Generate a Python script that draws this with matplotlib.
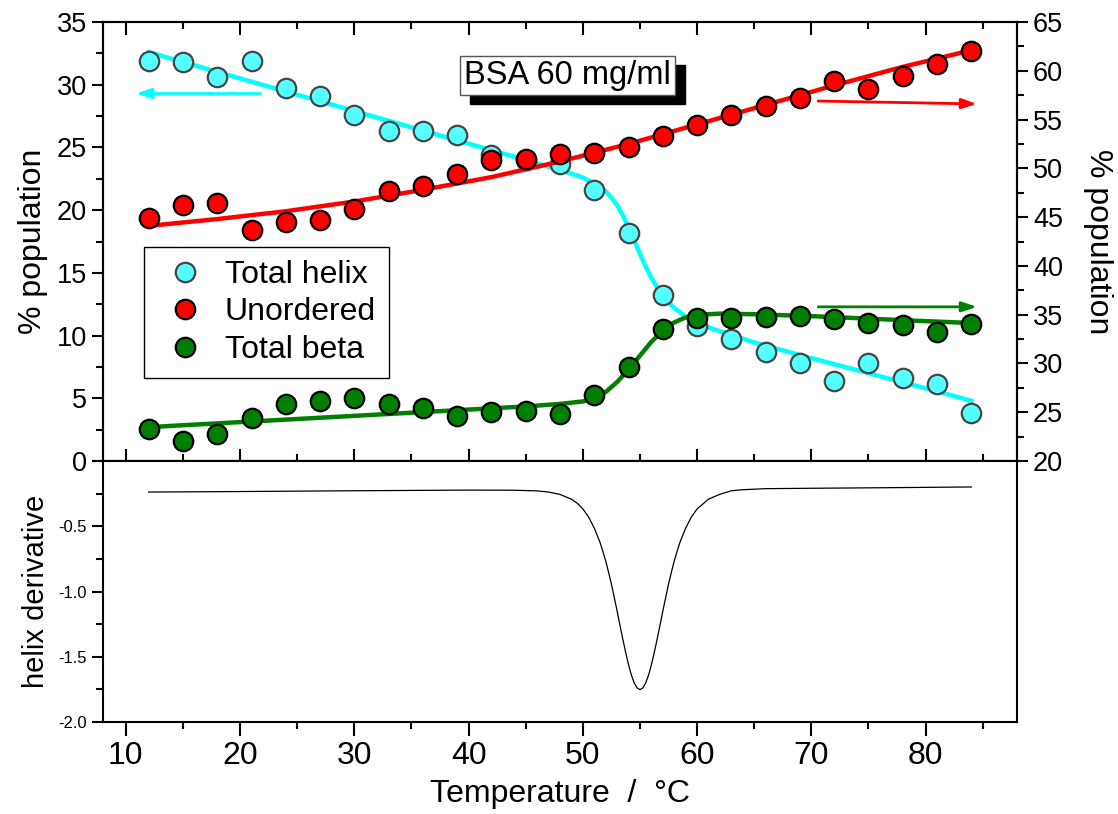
import numpy as np
import matplotlib
matplotlib.use('Agg')
import matplotlib.pyplot as plt
from matplotlib.ticker import MultipleLocator, FixedLocator, FixedFormatter
from matplotlib.patches import Rectangle

plt.rcParams['font.family'] = ['Liberation Sans', 'DejaVu Sans']

# measured points (temperature in C)
temp = [12, 15, 18, 21, 24, 27, 30, 33, 36, 39, 42, 45, 48,
        51, 54, 57, 60, 63, 66, 69, 72, 75, 78, 81, 84]
helix = [31.9, 31.8, 30.6, 31.9, 29.7, 29.1, 27.6, 26.3, 26.3, 26.0, 24.4, 24.0, 23.7,
         21.6, 18.2, 13.2, 10.8, 9.75, 8.7, 7.8, 6.4, 7.8, 6.6, 6.15, 3.8]
unordered = [44.9, 46.2, 46.4, 43.7, 44.5, 44.7, 45.8, 47.7, 48.2, 49.4, 50.9, 51.0, 51.5,
             51.6, 52.2, 53.3, 54.4, 55.5, 56.4, 57.2, 59.0, 58.1, 59.5, 60.7, 62.0]
beta = [2.56, 1.6, 2.16, 3.44, 4.56, 4.8, 5.04, 4.56, 4.24, 3.6, 3.9, 4.0, 3.76,
        5.28, 7.5, 10.55, 11.43, 11.43, 11.5, 11.6, 11.35, 11.0, 10.87, 10.3, 10.95]

# fitted curves
helix_fit_t = [12, 20, 30, 40, 45, 48, 50, 51, 52, 52.5, 53, 53.5, 54, 54.5, 55, 55.5, 56,
               56.5, 57, 57.5, 58, 59, 60, 61, 62, 63, 65, 70, 75, 80, 84]
helix_fit = [32.6, 30.5, 27.9, 25.3, 24.0, 23.2, 22.6, 22.1, 21.5, 21.0, 20.4, 19.6, 18.6,
             17.6, 16.5, 15.5, 14.6, 13.85, 13.2, 12.65, 12.2, 11.5, 11.0, 10.65, 10.35,
             10.05, 9.45, 8.2, 7.0, 5.8, 4.8]
unord_fit_t = [12, 18, 24, 30, 36, 42, 48, 54, 60, 66, 72, 78, 84]
unord_fit = [44.1, 44.8, 45.6, 46.6, 47.8, 49.1, 50.7, 52.5, 54.5, 56.5, 58.5, 60.4, 62.1]
beta_fit_t = [12, 20, 30, 40, 45, 48, 50, 51, 52, 53, 54, 55, 56, 57, 58, 59, 60, 62, 65,
              70, 75, 80, 84]
beta_fit = [2.7, 3.1, 3.6, 4.1, 4.35, 4.55, 4.75, 5.0, 5.5, 6.3, 7.3, 8.4, 9.5, 10.4, 11.05,
            11.45, 11.65, 11.75, 11.7, 11.55, 11.35, 11.15, 11.0]

deriv_t = [12, 20, 30, 40, 44, 46, 47, 48, 49, 49.5, 50, 50.5, 51, 51.5, 51.75, 52, 52.25,
           52.5, 52.75, 53, 53.25, 53.5, 53.75, 54, 54.25, 54.5, 54.75, 55, 55.25, 55.5,
           55.75, 56, 56.25, 56.5, 56.75, 57, 57.25, 57.5, 57.75, 58, 58.25, 58.5, 59,
           59.5, 60, 60.5, 61, 62, 63, 64, 66, 70, 76, 84]
deriv = [-0.238, -0.234, -0.228, -0.223, -0.224, -0.229, -0.238, -0.256, -0.293, -0.323,
         -0.367, -0.429, -0.514, -0.623, -0.692, -0.766, -0.852, -0.943, -1.046, -1.150,
         -1.260, -1.366, -1.468, -1.562, -1.641, -1.701, -1.739, -1.752, -1.739, -1.700,
         -1.641, -1.562, -1.468, -1.366, -1.260, -1.150, -1.046, -0.943, -0.852, -0.766,
         -0.692, -0.623, -0.514, -0.429, -0.367, -0.330, -0.292, -0.255, -0.228, -0.220,
         -0.212, -0.209, -0.205, -0.199]

CYAN_FILL = '#55ffff'
CYAN_LINE = '#00ffff'
RED = '#ff0000'
GREEN = '#007f00'

W, H = 1118, 814
fig = plt.figure(figsize=(W / 100, H / 100), dpi=100)
x0, x1 = 103, 1017
ytop, ymid, ybot = 22, 461, 722
ax = fig.add_axes([x0 / W, 1 - ymid / H, (x1 - x0) / W, (ymid - ytop) / H])
ax2 = ax.twinx()
axd = fig.add_axes([x0 / W, 1 - ybot / H, (x1 - x0) / W, (ybot - ymid) / H])

ms = 14
mew = 1.6
ax.plot(helix_fit_t, helix_fit, color=CYAN_LINE, lw=3.2, zorder=2)
ax.plot(temp, helix, 'o', ms=ms, mfc=CYAN_FILL, mec='#454545', mew=mew, zorder=3)
ax.plot(beta_fit_t, beta_fit, color=GREEN, lw=3.2, zorder=2)
ax.plot(temp, beta, 'o', ms=ms, mfc=GREEN, mec='black', mew=mew, zorder=3)
ax2.plot(unord_fit_t, unord_fit, color=RED, lw=3.2, zorder=2)
ax2.plot(temp, unordered, 'o', ms=ms, mfc=RED, mec='black', mew=mew, zorder=3)

# direction arrows pointing to the axis each series belongs to
arrow = dict(arrowstyle='-|>,head_length=0.9,head_width=0.3', lw=2, shrinkA=0, shrinkB=0)
ax.annotate('', xy=(10.9, 29.3), xytext=(21.8, 29.3),
            arrowprops=dict(arrow, color=CYAN_LINE))
ax2.annotate('', xy=(84.5, 56.6), xytext=(70.6, 56.9),
             arrowprops=dict(arrow, color=RED))
ax2.annotate('', xy=(84.5, 35.8), xytext=(70.6, 35.8),
             arrowprops=dict(arrow, color=GREEN))

ax.set_xlim(8, 88)
ax.set_ylim(0, 35)
ax2.set_ylim(20, 65)
ax.xaxis.set_major_locator(MultipleLocator(10))
ax.xaxis.set_minor_locator(MultipleLocator(5))
ax.yaxis.set_major_locator(MultipleLocator(5))
ax.yaxis.set_minor_locator(MultipleLocator(2.5))
ax2.yaxis.set_major_locator(MultipleLocator(5))
ax2.yaxis.set_minor_locator(MultipleLocator(2.5))
ax.tick_params(axis='x', which='both', direction='in', top=True, bottom=True,
               labelbottom=False, width=1.5)
ax.tick_params(axis='x', which='major', length=9)
ax.tick_params(axis='x', which='minor', length=5)
for a in (ax, ax2):
    a.tick_params(axis='y', which='both', direction='out', width=1.5, labelsize=19.5)
    a.tick_params(axis='y', which='major', length=8)
    a.tick_params(axis='y', which='minor', length=5)
ax.set_ylabel('% population', fontsize=23, labelpad=6)
ax2.set_ylabel('% population', fontsize=23, rotation=270, labelpad=36)

# legend, built from dummy handles so it sits above every series
h1, = ax2.plot([], [], 'o', ms=ms, mfc=CYAN_FILL, mec='#454545', mew=mew)
h2, = ax2.plot([], [], 'o', ms=ms, mfc=RED, mec='black', mew=mew)
h3, = ax2.plot([], [], 'o', ms=ms, mfc=GREEN, mec='black', mew=mew)
leg = ax2.legend([h1, h2, h3], ['Total helix', 'Unordered', 'Total beta'],
                 loc='upper left', bbox_to_anchor=(0.045, 0.4875), borderaxespad=0,
                 fontsize=23, frameon=True, fancybox=False, framealpha=1,
                 edgecolor='black', borderpad=0.4, handletextpad=0.37,
                 labelspacing=0.24, handlelength=1.75)
leg.get_frame().set_linewidth(1.0)

# title box with drop shadow
tx, ty = 0.508, 0.879
title = ax2.text(tx, ty, 'BSA 60 mg/ml', transform=ax2.transAxes, ha='center',
                 va='center', fontsize=23.5, color='black', zorder=6,
                 bbox=dict(boxstyle='square,pad=0.12', fc='white', ec='#555555', lw=1))
fig.canvas.draw()
bb = title.get_bbox_patch().get_window_extent()
bx0, by0 = ax2.transAxes.inverted().transform((bb.x0 + 10, bb.y0 - 9))
bx1, by1 = ax2.transAxes.inverted().transform((bb.x1 + 10, bb.y1 - 9))
ax2.add_patch(Rectangle((bx0, by0), bx1 - bx0, by1 - by0, transform=ax2.transAxes,
                        fc='black', ec='black', zorder=5))

# lower panel: derivative of the helix fit
axd.plot(deriv_t, deriv, color='black', lw=0.9)
axd.set_xlim(8, 88)
axd.set_ylim(-2.0, 0)
axd.xaxis.set_major_locator(MultipleLocator(10))
axd.xaxis.set_minor_locator(MultipleLocator(5))
axd.yaxis.set_major_locator(FixedLocator([-2.0, -1.5, -1.0, -0.5, 0]))
axd.yaxis.set_major_formatter(FixedFormatter(['-2.0', '-1.5', '-1.0', '-0.5', '']))
axd.yaxis.set_minor_locator(MultipleLocator(0.25))
axd.tick_params(axis='x', which='both', direction='out', top=False, width=1.5, labelsize=23)
axd.tick_params(axis='x', which='major', length=10)
axd.tick_params(axis='x', which='minor', length=5)
axd.tick_params(axis='y', which='both', direction='out', width=1.5, labelsize=12)
axd.tick_params(axis='y', which='major', length=8)
axd.tick_params(axis='y', which='minor', length=5)
axd.set_ylabel('helix derivative', fontsize=21, labelpad=6)
axd.set_xlabel('Temperature  /  \u00b0C', fontsize=23, labelpad=6)

for a in (ax, ax2, axd):
    for s in a.spines.values():
        s.set_linewidth(1.5)

fig.savefig('out.png', dpi=100)
